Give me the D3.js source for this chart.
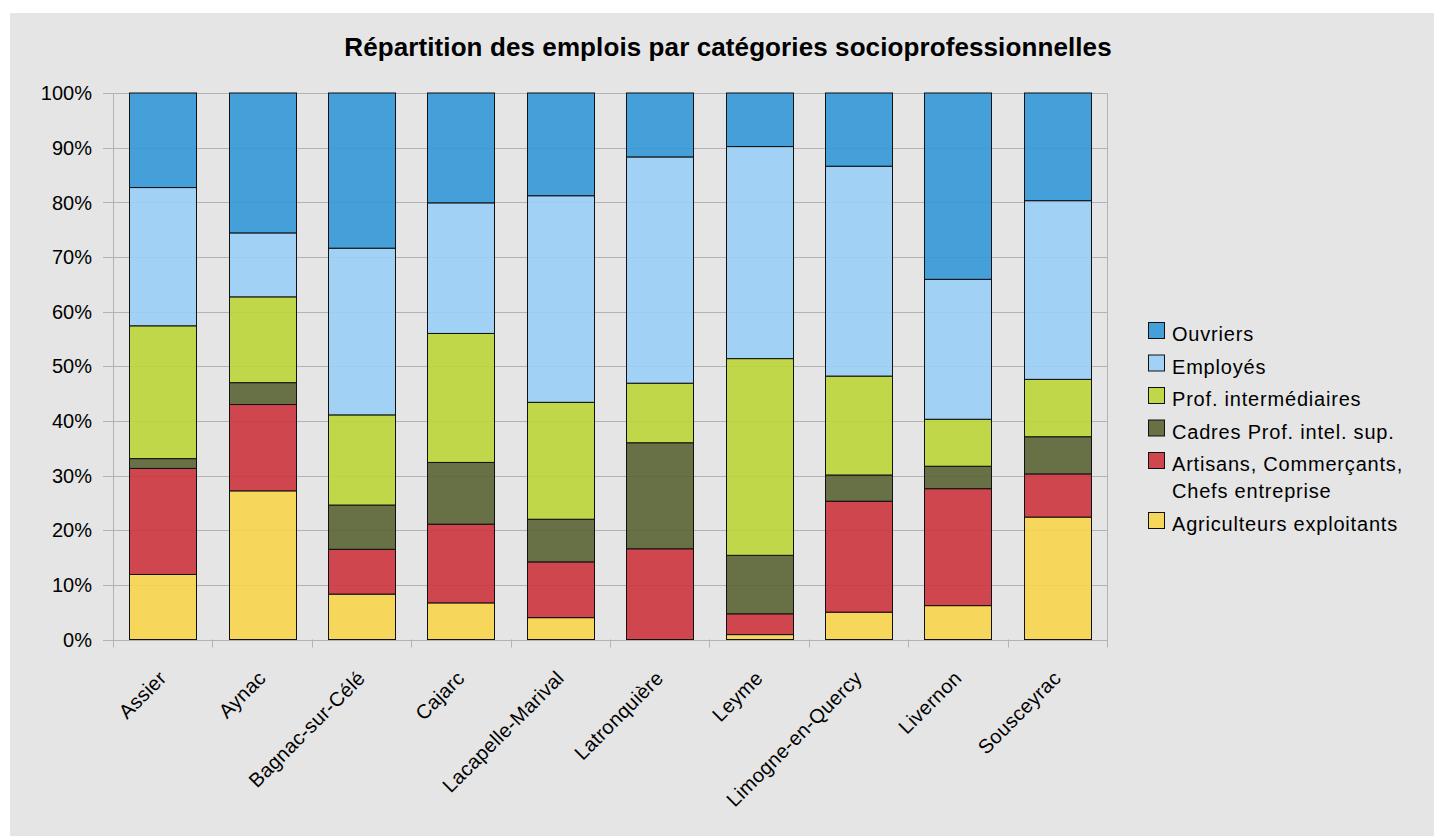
<!DOCTYPE html>
<html>
<head>
<meta charset="utf-8">
<script src="https://cdn.jsdelivr.net/npm/d3@7"></script>
<style>
  body { margin: 0; background: #fff; }
  text { font-family: "Liberation Sans", Arial, sans-serif; fill: #000; }
</style>
</head>
<body>
<div id="wrapper"></div>
<script>
// communes (x axis)
var COMMUNES = ["Assier", "Aynac", "Bagnac-sur-Célé", "Cajarc", "Lacapelle-Marival",
    "Latronquière", "Leyme", "Limogne-en-Quercy", "Livernon", "Sousceyrac"];

// series, bottom to top, in % of jobs
var AGRICULTEURS = [11.9, 27.2, 8.3, 6.7, 4.0, 0, 0.9, 5.0, 6.2, 22.4];
var ARTISANS     = [19.4, 15.8, 8.2, 14.4, 10.2, 16.6, 3.8, 20.3, 21.4, 7.9];
var CADRES       = [1.8, 4.0, 8.1, 11.3, 7.8, 19.4, 10.7, 4.8, 4.1, 6.8];
var PROF_INTER   = [24.3, 15.7, 16.5, 23.6, 21.4, 10.9, 36.0, 18.1, 8.6, 10.5];
var EMPLOYES     = [25.3, 11.7, 30.5, 23.9, 37.8, 41.4, 38.8, 38.4, 25.6, 32.7];
var OUVRIERS     = [17.3, 25.6, 28.4, 20.1, 18.8, 11.7, 9.8, 13.4, 34.1, 19.7];

var SERIES = [
    {key: "agri", name: ["Agriculteurs exploitants"], color: "#f8d44d", values: AGRICULTEURS},
    {key: "arti", name: ["Artisans, Commerçants,", "Chefs entreprise"], color: "#cd343e", values: ARTISANS},
    {key: "cadr", name: ["Cadres Prof. intel. sup."], color: "#5a6434", values: CADRES},
    {key: "prof", name: ["Prof. intermédiaires"], color: "#bbd537", values: PROF_INTER},
    {key: "empl", name: ["Employés"], color: "#99cff7", values: EMPLOYES},
    {key: "ouvr", name: ["Ouvriers"], color: "#3397d7", values: OUVRIERS}
];

var Y_TICKS = [0, 10, 20, 30, 40, 50, 60, 70, 80, 90, 100];

function build() {
    var W = 1434, H = 836;
    var margin = {top: 93, right: 327, bottom: 196.5, left: 113};

    var svg = d3.select("#wrapper").append("svg")
        .attr("width", W).attr("height", H);

    // grey chart background
    svg.append("rect")
        .attr("x", 10).attr("y", 13)
        .attr("width", W - 10).attr("height", H - 13)
        .attr("fill", "#e5e5e5");

    // rows for d3.stack
    var rows = COMMUNES.map(function(c, i) {
        var r = {commune: c};
        SERIES.forEach(function(s) { r[s.key] = s.values[i]; });
        return r;
    });

    var stack = d3.stack()
        .keys(SERIES.map(function(s) { return s.key; }))
        .offset(d3.stackOffsetExpand);
    var stacked = stack(rows);

    var x = d3.scaleBand()
        .domain(COMMUNES)
        .range([margin.left, W - margin.right])
        .paddingInner(0.326)
        .paddingOuter(0.163);

    var y = d3.scaleLinear()
        .domain([0, 1])
        .range([H - margin.bottom, margin.top]);

    // horizontal grid
    svg.append("g")
        .selectAll("line")
        .data(Y_TICKS)
        .enter()
        .append("line")
        .attr("x1", margin.left - 10)
        .attr("x2", W - margin.right)
        .attr("y1", function(d) { return Math.round(y(d / 100)) + 0.5; })
        .attr("y2", function(d) { return Math.round(y(d / 100)) + 0.5; })
        .attr("stroke", "#b3b3b3")
        .attr("stroke-width", 1);

    // right border of plot
    svg.append("line")
        .attr("x1", W - margin.right + 0.5).attr("x2", W - margin.right + 0.5)
        .attr("y1", y(1)).attr("y2", y(0))
        .attr("stroke", "#b3b3b3");

    // x ticks at category boundaries (also y axis line)
    var step = x.step();
    var bounds = d3.range(COMMUNES.length + 1).map(function(i) { return margin.left + i * step; });
    svg.append("g")
        .selectAll("line")
        .data(bounds)
        .enter()
        .append("line")
        .attr("x1", function(d, i) { return Math.round(d) + 0.5; })
        .attr("x2", function(d, i) { return Math.round(d) + 0.5; })
        .attr("y1", function(d, i) { return i == 0 ? y(1) : y(0); })
        .attr("y2", y(0) + 8)
        .attr("stroke", "#b3b3b3");

    // y tick labels
    svg.append("g")
        .selectAll("text")
        .data(Y_TICKS)
        .enter()
        .append("text")
        .attr("x", 92)
        .attr("y", function(d) { return y(d / 100); })
        .attr("dy", "0.36em")
        .style("text-anchor", "end")
        .style("font-size", "20px")
        .text(function(d) { return d + "%"; });

    // bars
    svg.append("g")
        .selectAll("g")
        .data(stacked)
        .enter()
        .append("g")
        .attr("fill", function(d, i) { return SERIES[i].color; })
        .selectAll("rect")
        .data(function(d) { return d.filter(function(p) { return p[1] - p[0] > 0; }); })
        .enter()
        .append("rect")
        .attr("x", function(d) { return Math.round(x(d.data.commune)) + 0.5; })
        .attr("width", Math.round(x.bandwidth()))
        .attr("y", function(d) { return y(d[1]); })
        .attr("height", function(d) { return y(d[0]) - y(d[1]); })
        .attr("fill-opacity", 0.9)
        .attr("stroke", "#111")
        .attr("stroke-width", 1);

    // x labels, rotated
    svg.append("g")
        .selectAll("text")
        .data(COMMUNES)
        .enter()
        .append("text")
        .attr("transform", function(d) {
            return "translate(" + (x(d) + x.bandwidth() / 2 - 5) + "," + (y(0) + 30) + ") rotate(-45)";
        })
        .attr("dy", "0.7em")
        .style("text-anchor", "end")
        .style("font-size", "20px")
        .style("letter-spacing", "0.3px")
        .text(function(d) { return d; });

    // title
    svg.append("text")
        .attr("x", 728)
        .attr("y", 56)
        .style("text-anchor", "middle")
        .style("font-size", "26px")
        .style("font-weight", "bold")
        .style("letter-spacing", "0.1px")
        .text("Répartition des emplois par catégories socioprofessionnelles");

    // legend (top series first)
    var legendRows = SERIES.slice().reverse();
    var rowY = [322, 354.5, 387, 419.5, 452, 512];
    var legend = svg.append("g");
    legendRows.forEach(function(s, i) {
        legend.append("rect")
            .attr("x", 1148.5).attr("y", rowY[i] + 0.5)
            .attr("width", 16).attr("height", 16)
            .attr("fill", s.color).attr("fill-opacity", 0.9)
            .attr("stroke", "#111");
        s.name.forEach(function(line, j) {
            legend.append("text")
                .attr("x", 1172)
                .attr("y", rowY[i] + 19 + j * 27)
                .style("font-size", "20px")
                .style("letter-spacing", "0.8px")
                .text(line);
        });
    });
}

build();
</script>
</body>
</html>
